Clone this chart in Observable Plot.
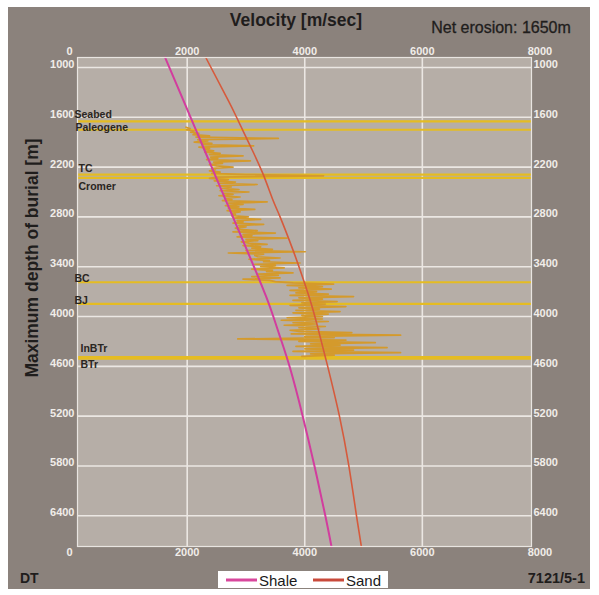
<!DOCTYPE html>
<html>
<head>
<meta charset="utf-8">
<script src="https://cdn.jsdelivr.net/npm/d3@7"></script>
<script src="https://cdn.jsdelivr.net/npm/@observablehq/plot@0.6"></script>
<style>
  body { margin: 0; background: #ffffff; font-family: "Liberation Sans", Arial, sans-serif; }
  #fig { position: relative; width: 599px; height: 595px; overflow: hidden; }
  #panel { position: absolute; left: 8px; top: 7px; width: 582px; height: 582px; background: #8b827c; }
  #chart { position: absolute; left: 0; top: 0; }
  .t { position: absolute; white-space: nowrap; color: #1f1d1c; }
  #title { left: 296px; top: 20px; transform: translate(-50%, -50%); font-weight: bold; font-size: 17.5px; }
  #erosion { left: 501px; top: 28px; transform: translate(-50%, -50%); font-size: 16px; -webkit-text-stroke: 0.3px #1f1d1c; }
  #ytitle { left: 32px; top: 258px; transform: translate(-50%, -50%) rotate(-90deg); font-weight: bold; font-size: 17.5px; }
  #dt { left: 20px; top: 578px; transform: translate(0, -50%); font-weight: bold; font-size: 14px; }
  #well { left: 585px; top: 578px; transform: translate(-100%, -50%); font-weight: bold; font-size: 14.5px; }
  #legend { position: absolute; left: 218px; top: 571px; width: 170px; height: 17px; background: #ffffff; }
</style>
</head>
<body>
<div id="fig">
  <div id="panel"></div>
  <div id="chart"></div>
  <div class="t" id="title">Velocity [m/sec]</div>
  <div class="t" id="erosion">Net erosion: 1650m</div>
  <div class="t" id="ytitle">Maximum depth of burial [m]</div>
  <div class="t" id="dt">DT</div>
  <div class="t" id="well">7121/5-1</div>
  <div id="legend"></div>
</div>
<script>
// Axis ticks
const xTicks = [0, 2000, 4000, 6000, 8000];
const yTicks = [1000, 1600, 2200, 2800, 3400, 4000, 4600, 5200, 5800, 6400];

// Compaction trends: velocity (m/s) against maximum burial depth (m)
const shaleDepth = [880, 1400, 2000, 2600, 3200, 3500, 3764, 4000, 4246, 4627, 5200, 5800, 6400, 6773];
const shaleVel   = [1625, 1937, 2297, 2657, 3017, 3195, 3345, 3465, 3580, 3752, 3965, 4165, 4350, 4455];
const sandDepth  = [880, 1400, 1600, 2000, 2300, 2600, 2800, 3200, 3500, 3800, 4100, 4600, 5200, 5800, 6400, 6773];
const sandVel    = [2316, 2700, 2840, 3110, 3300, 3460, 3580, 3800, 3950, 4090, 4210, 4390, 4590, 4750, 4880, 4963];

// Stratigraphic tops (m)
const horizonNames  = ["Seabed", "Paleogene", "TC", "Cromer", "BC", "BJ", "InBTr", "BTr"];
const horizonDepths = [1650, 1750, 2290, 2330, 3587, 3847, 4488, 4508];

// Sonic-derived velocity log, sampled every 15 m from 1720 m
const dtTop = 1720, dtStep = 15;
const dtVelocity = [
  1980, 2050, 1990, 2120, 2060, 2200, 2100, 2380, 2150, 3550,
  2180, 2350, 2120, 2420, 2250, 3130, 2200, 2380, 2300,
  2450, 2300, 2560, 2380, 2950, 2400, 2520, 2330, 3075, 2450, 2600, 2380, 2500, 2780, 2420,
  2480, 2380, 2560, 2420, 3000,
  4320,
  2500, 2380, 2700, 2460, 2820, 2550, 3190, 2500, 2750, 2600, 2880, 2560, 3050, 2620, 2780, 2540, 2900, 2650, 2760,
  2600, 3360, 2700, 2950,
  2650, 2880, 2700, 3150, 2680, 2900, 2750, 2820,
  2760, 3040, 2800, 3250, 2850, 2950, 2780, 3300, 2880, 3000, 2820,
  2900, 3190, 2780, 3500, 2950, 3100, 2850, 3700, 3000, 3200, 2920,
  3050, 3360, 2950, 3250, 3100, 3450, 3000, 4010, 2700, 3300, 3150,
  3200, 3580, 3050, 3400, 3300, 3920, 3150, 3500, 3250, 3650, 3100, 3450, 3350, 3800, 3200, 3550,
  3100, 3580, 2950, 3400, 3500,
  3800, 4490, 3700, 4300, 3900, 4450, 3750, 4200,
  3850, 4400, 3750, 4830, 3900, 4300, 3800, 4550, 3950, 4350, 3750, 4700, 3900, 4250, 3850, 4600, 3800, 4400, 3950, 4300,
  3700, 4300, 3600, 4400, 3800, 4200, 3650, 4350, 3900, 4250, 3750,
  3900, 4800, 3770, 5630, 4000, 4500, 2860, 4700, 3900, 5200, 4100, 4600, 3850, 5400, 4000, 4830, 3800, 5630, 4100, 4500, 3950
];

// Tables for the marks
const shale = shaleDepth.map((d, i) => ({depth: d, vel: shaleVel[i]}));
const sand = sandDepth.map((d, i) => ({depth: d, vel: sandVel[i]}));
const dtLog = dtVelocity.map((v, i) => ({depth: dtTop + i * dtStep, vel: v}));
const horizons = horizonNames.map((n, i) => ({name: n, depth: horizonDepths[i]}));

// Label placement next to each top (pixels)
const labelOffset = {
  Seabed: [-3, -6.5], Paleogene: [-2, -2], TC: [1, -6], Cromer: [1, 9],
  BC: [-3, -3.5], BJ: [-3, -3.5], InBTr: [3, -8.5], BTr: [3, 6]
};

const xDomain = [134, 7857];
const yDomain = [880, 6770];
const xGrid = xTicks.filter(v => v > xDomain[0] && v < xDomain[1]);

const tickFont = {fontFamily: "Liberation Sans, Arial, sans-serif", fontSize: 11, fontWeight: "bold", fill: "#f1ede9"};
const gridColor = "#ebe7e3";

const chart = Plot.plot({
  width: 599,
  height: 595,
  marginLeft: 77,
  marginRight: 68,
  marginTop: 57,
  marginBottom: 49,
  style: {background: "transparent", overflow: "visible"},
  x: {domain: xDomain, axis: null},
  y: {domain: yDomain, reverse: true, axis: null},
  marks: [
    Plot.frame({fill: "#b6aea7"}),
    Plot.ruleX(xGrid, {stroke: gridColor, strokeWidth: 1.6}),
    Plot.ruleY(yTicks, {stroke: gridColor, strokeWidth: 1.6}),
    Plot.ruleY(horizons, {y: "depth", stroke: "#e5bc22", strokeWidth: 2.2}),
    Plot.line(dtLog, {x: "vel", y: "depth", stroke: "#d49a2c", strokeWidth: 1.7}),
    Plot.line(sand, {x: "vel", y: "depth", stroke: "#d65a3c", strokeWidth: 1.6, curve: "natural"}),
    Plot.line(shale, {x: "vel", y: "depth", stroke: "#d23d9e", strokeWidth: 2, curve: "natural"}),
    Plot.frame({stroke: "#e9e5e1", strokeWidth: 1.2}),
    ...horizons.map(h => Plot.text([h], {
      y: "depth", text: "name", frameAnchor: "left", textAnchor: "start",
      dx: labelOffset[h.name][0], dy: labelOffset[h.name][1],
      fontFamily: "Liberation Sans, Arial, sans-serif", fontSize: 10.5, fontWeight: "bold", fill: "#2a2622"
    })),
    Plot.text(xTicks, {x: d => d, text: d => String(d), frameAnchor: "top", dy: -10, ...tickFont}),
    Plot.text(xTicks, {x: d => d, text: d => String(d), frameAnchor: "bottom", dy: 9, ...tickFont}),
    Plot.text(yTicks, {y: d => d, text: d => String(d), frameAnchor: "left", textAnchor: "end", dx: -3, dy: -3, ...tickFont}),
    Plot.text(yTicks, {y: d => d, text: d => String(d), frameAnchor: "right", textAnchor: "start", dx: 2, dy: -3, ...tickFont})
  ]
});
document.getElementById("chart").appendChild(chart);

// Legend: two line swatches with their labels
const legendItems = [
  {label: "Shale", color: "#d8479c"},
  {label: "Sand", color: "#c94a3b"}
];
const leg = d3.select("#legend").append("svg").attr("width", 170).attr("height", 17);
const item = leg.selectAll("g").data(legendItems).join("g")
  .attr("transform", (d, i) => `translate(${8 + i * 87},0)`);
item.append("line").attr("x1", 0).attr("x2", 31).attr("y1", 9).attr("y2", 9)
  .attr("stroke", d => d.color).attr("stroke-width", 3);
item.append("text").attr("x", 33).attr("y", 14.5).text(d => d.label)
  .attr("font-family", "Liberation Sans, Arial, sans-serif").attr("font-size", 15).attr("fill", "#1a1a1a");
</script>
</body>
</html>
